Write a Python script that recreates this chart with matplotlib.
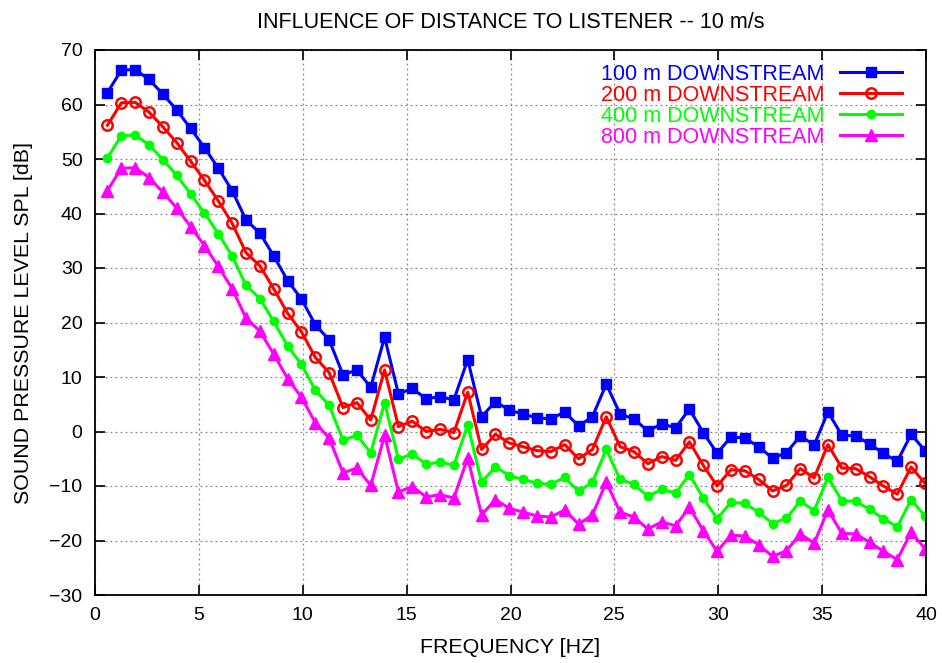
import numpy as np
import matplotlib
matplotlib.use("Agg")
import matplotlib.pyplot as plt

plt.rcParams['font.family'] = ['Liberation Sans', 'DejaVu Sans']

# frequencies (Hz), evenly spaced bands
freq = np.linspace(0.6, 39.95, 60)

spl_100 = [62.2, 66.3, 66.4, 64.6, 61.9, 59.0, 55.6, 52.1, 48.3, 44.2,
           38.8, 36.4, 32.2, 27.7, 24.3, 19.6, 16.8, 10.4, 11.3, 8.1,
           17.3, 6.9, 7.9, 6.0, 6.4, 5.8, 13.2, 2.7, 5.5, 3.9,
           3.2, 2.5, 2.3, 3.6, 1.0, 2.7, 8.7, 3.2, 2.3, 0.1,
           1.4, 0.7, 4.1, -0.2, -4.0, -1.0, -1.2, -2.8, -4.9, -3.9,
           -0.8, -2.5, 3.6, -0.7, -0.8, -2.3, -4.0, -5.5, -0.5, -3.5]
spl_200 = [56.2, 60.3, 60.4, 58.6, 55.9, 53.0, 49.6, 46.1, 42.3, 38.2,
           32.8, 30.4, 26.2, 21.7, 18.3, 13.6, 10.8, 4.4, 5.3, 2.1,
           11.3, 0.9, 1.9, 0.0, 0.4, -0.2, 7.2, -3.3, -0.5, -2.1,
           -2.8, -3.5, -3.7, -2.4, -5.0, -3.3, 2.7, -2.8, -3.7, -5.9,
           -4.6, -5.3, -1.9, -6.2, -10.0, -7.0, -7.2, -8.8, -10.9, -9.9,
           -6.8, -8.5, -2.4, -6.7, -6.8, -8.3, -10.0, -11.5, -6.5, -9.5]
spl_400 = [50.2, 54.3, 54.4, 52.6, 49.9, 47.0, 43.6, 40.1, 36.3, 32.2,
           26.8, 24.4, 20.2, 15.7, 12.3, 7.6, 4.8, -1.6, -0.7, -3.9,
           5.3, -5.1, -4.1, -6.0, -5.6, -6.2, 1.2, -9.3, -6.5, -8.1,
           -8.8, -9.5, -9.7, -8.4, -11.0, -9.3, -3.3, -8.8, -9.7, -11.9,
           -10.6, -11.3, -7.9, -12.2, -16.0, -13.0, -13.2, -14.8, -16.9, -15.9,
           -12.8, -14.5, -8.4, -12.7, -12.8, -14.3, -16.0, -17.5, -12.5, -15.5]
spl_800 = [44.2, 48.3, 48.4, 46.6, 43.9, 41.0, 37.6, 34.1, 30.3, 26.2,
           20.8, 18.4, 14.2, 9.7, 6.3, 1.6, -1.2, -7.6, -6.7, -9.9,
           -0.7, -11.1, -10.1, -12.0, -11.6, -12.2, -4.8, -15.3, -12.5, -14.1,
           -14.8, -15.5, -15.7, -14.4, -17.0, -15.3, -9.3, -14.8, -15.7, -17.9,
           -16.6, -17.3, -13.9, -18.2, -22.0, -19.0, -19.2, -20.8, -22.9, -21.9,
           -18.8, -20.5, -14.4, -18.7, -18.8, -20.3, -22.0, -23.5, -18.5, -21.5]

labels = ['100 m DOWNSTREAM', '200 m DOWNSTREAM', '400 m DOWNSTREAM', '800 m DOWNSTREAM']

fig = plt.figure(figsize=(9.42, 6.63), dpi=100)
ax = fig.add_axes([95/942, 1 - 595/663, 831/942, 545/663])

ax.plot(freq, spl_100, color='#0000ff', lw=2.2, marker='s', ms=6.5, label=labels[0])
ax.plot(freq, spl_200, color='#ff0000', lw=2.2, marker='o', ms=7.5, mfc='none',
        mew=1.8, label=labels[1])
ax.plot(freq, spl_400, color='#00ff00', lw=2.2, marker='o', ms=6, label=labels[2])
ax.plot(freq, spl_800, color='#ff00ff', lw=2.2, marker='^', ms=8, label=labels[3])

ax.set_xlim(0, 40)
ax.set_ylim(-30, 70)
ax.set_xticks(np.arange(0, 41, 5))
ax.set_yticks(np.arange(-30, 71, 10))
ax.grid(True, color='#888888', linestyle=(0, (1.5, 2.5)), lw=0.9)
ax.tick_params(direction='in', top=True, right=True, length=7, width=1.2,
               labelsize=14, pad=9)
for s in ax.spines.values():
    s.set_linewidth(1.3)

ax.set_title('INFLUENCE OF DISTANCE TO LISTENER -- 10 m/s', fontsize=15.5, pad=16)
ax.set_xlabel('FREQUENCY [HZ]', fontsize=15.4, labelpad=10)
ax.set_ylabel('SOUND PRESSURE LEVEL SPL [dB]', fontsize=15.4, labelpad=12)

ax.legend(loc='upper right', bbox_to_anchor=(1 - 10/831, 1.0), frameon=False,
          markerfirst=False, fontsize=15.5, labelcolor='linecolor',
          handlelength=2.9, labelspacing=0.0, borderaxespad=0.25,
          handletextpad=0.7)

fig.savefig('out.png', dpi=100)
